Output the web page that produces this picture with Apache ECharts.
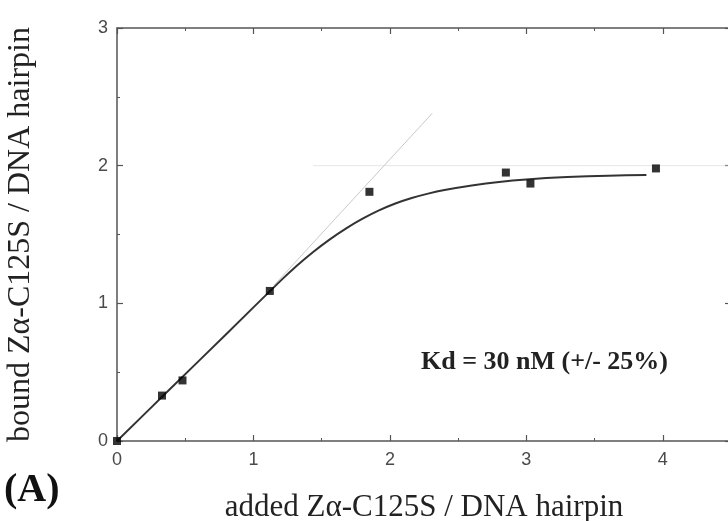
<!DOCTYPE html>
<html>
<head>
<meta charset="utf-8">
<script src="https://cdn.jsdelivr.net/npm/echarts@6/dist/echarts.min.js"></script>
<style>html,body{margin:0;padding:0;background:#fff}#c{width:728px;height:521px}</style>
</head>
<body>
<div id="c"></div>
<script>
// measured points: added / bound
var addedX = [0, 0.33, 0.48, 1.12, 1.85, 2.85, 3.03, 3.95];
var boundY = [0, 0.33, 0.44, 1.09, 1.81, 1.95, 1.87, 1.98];
// fitted curve
var fitX = [0, 0.4, 0.8, 1.2, 1.32, 1.44, 1.56, 1.68, 1.80, 1.92, 2.04, 2.16, 2.28, 2.40, 2.6, 2.8, 3.0, 3.3, 3.6, 3.88];
var fitY = [0, 0.388, 0.776, 1.165, 1.275, 1.375, 1.465, 1.545, 1.615, 1.675, 1.725, 1.765, 1.797, 1.823, 1.856, 1.882, 1.900, 1.917, 1.927, 1.932];
// initial slope line (visible part) and saturation line
var tangentX = [1.15, 2.31];
var tangentY = [1.13, 2.38];
var satX = [1.44, 4.5];
var satY = [2, 2];
var xTicks = ['0', '1', '2', '3', '4'];
var yTicks = ['0', '1', '2', '3'];
var xTitle = 'added Zα-C125S / DNA hairpin';
var yTitle = 'bound Zα-C125S / DNA hairpin';
var kdText = 'Kd = 30 nM (+/- 25%)';
var panelLabel = '(A)';

function pairs(xs, ys) { return xs.map(function (x, i) { return [x, ys[i]]; }); }

var axisCol = '#555';
var chart = echarts.init(document.getElementById('c'));
function ax(extra) {
  return Object.assign({
    axisLine: { show: true, onZero: false, lineStyle: { color: axisCol, width: 1.5 } },
    axisTick: { show: true, inside: true, length: 6, lineStyle: { color: axisCol, width: 1.2 } },
    minorTick: { show: true, splitNumber: 2, length: 3, lineStyle: { color: axisCol, width: 1 } },
    splitLine: { show: false }
  }, extra);
}
chart.setOption({
  animation: false,
  grid: { left: 117, width: 614, top: 28, height: 413, containLabel: false, outerBoundsMode: 'none' },
  xAxis: [
    ax({
      type: 'value', min: 0, max: 4.5, interval: 1, position: 'bottom',
      axisLabel: { margin: 10, fontFamily: 'Liberation Sans', fontSize: 18, color: '#4a4a4a',
        formatter: function (v) { return xTicks[Math.round(v)] || ''; } },
      name: xTitle, nameLocation: 'middle', nameGap: 51,
      nameTextStyle: { fontFamily: 'Liberation Serif', fontSize: 31, color: '#222' }
    }),
    ax({
      type: 'value', min: 0, max: 4.5, interval: 1, position: 'top',
      axisLabel: { show: false }
    })
  ],
  yAxis: [
    ax({
      type: 'value', min: 0, max: 3, interval: 1, position: 'left',
      axisLabel: { margin: 9, fontFamily: 'Liberation Sans', fontSize: 18, color: '#4a4a4a',
        formatter: function (v) { return yTicks[Math.round(v)] || ''; } },
      name: yTitle, nameLocation: 'middle', nameGap: 80,
      nameTextStyle: { fontFamily: 'Liberation Serif', fontSize: 32, color: '#222' }
    }),
    ax({
      type: 'value', min: 0, max: 3, interval: 1, position: 'right',
      axisLabel: { show: false }
    })
  ],
  graphic: [
    { type: 'text', left: 4, top: 471, style: { text: panelLabel, font: 'bold 40px "Liberation Serif"', fill: '#111' } },
    { type: 'text', left: 421, top: 349, style: { text: kdText, font: 'bold 26px "Liberation Serif"', fill: '#222' } }
  ],
  series: [
    { type: 'line', data: pairs(tangentX, tangentY), symbol: 'none', silent: true,
      lineStyle: { color: '#c8c8c8', width: 1 }, z: 1 },
    { type: 'line', data: pairs(satX, satY), symbol: 'none', silent: true,
      lineStyle: { color: '#ccc', width: 1, type: 'dotted' }, z: 1 },
    { type: 'line', data: pairs(fitX, fitY), symbol: 'none', smooth: 0.25, silent: true,
      lineStyle: { color: '#333', width: 2 }, z: 2 },
    { type: 'scatter', data: pairs(addedX, boundY), symbol: 'rect', symbolSize: 8,
      itemStyle: { color: '#000' }, z: 3 }
  ]
});
</script>
</body>
</html>
